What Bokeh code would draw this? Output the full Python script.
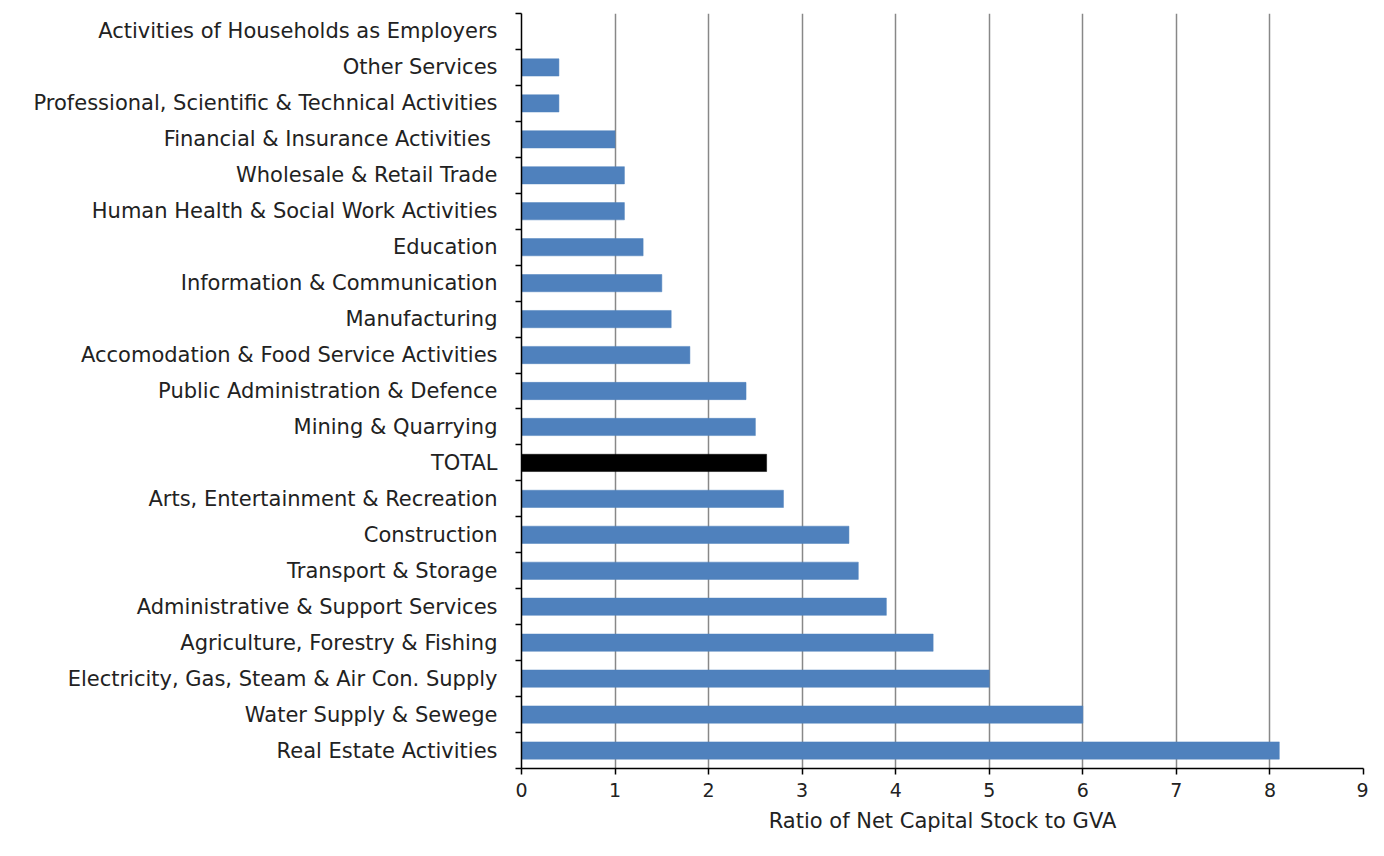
from bokeh.plotting import figure
from bokeh.models import FixedTicker, Range1d, ColumnDataSource
from bokeh.embed import file_html
from bokeh.resources import INLINE

# bottom to top
categories = [
    "Real Estate Activities",
    "Water Supply & Sewege",
    "Electricity, Gas, Steam & Air Con. Supply",
    "Agriculture, Forestry & Fishing",
    "Administrative & Support Services",
    "Transport & Storage",
    "Construction",
    "Arts, Entertainment & Recreation",
    "TOTAL",
    "Mining & Quarrying",
    "Public Administration & Defence",
    "Accomodation & Food Service Activities",
    "Manufacturing",
    "Information & Communication",
    "Education",
    "Human Health & Social Work Activities",
    "Wholesale & Retail Trade",
    "Financial & Insurance  Activities",
    "Professional, Scientific & Technical Activities",
    "Other Services",
    "Activities of Households as Employers",
]
values = [8.1, 6.0, 5.0, 4.4, 3.9, 3.6, 3.5, 2.8, 2.62, 2.5, 2.4, 1.8, 1.6, 1.5,
          1.3, 1.1, 1.1, 1.0, 0.4, 0.4, 0.0]
x_ticks = [0, 1, 2, 3, 4, 5, 6, 7, 8, 9]
x_label = "Ratio of Net Capital Stock to GVA"

n = len(categories)
pos = list(range(n))
colors = ["#000000" if c == "TOTAL" else "#4F81BD" for c in categories]
src = ColumnDataSource(dict(y=pos, v=values, c=colors))

FONT = "DejaVu Sans"

p = figure(width=1368, height=840, output_backend="svg", toolbar_location=None,
           x_range=Range1d(0, 9), y_range=Range1d(-0.5, n - 0.5),
           min_border_left=521, min_border_right=5, min_border_top=13,
           min_border_bottom=72)
p.hbar(y="y", right="v", left=0, height=0.48, fill_color="c", line_color="c",
       line_width=0.5, source=src)

p.outline_line_color = None
p.background_fill_color = "white"
p.border_fill_color = "white"

# x axis
xa = p.xaxis[0]
xa.ticker = FixedTicker(ticks=x_ticks)
xa.axis_label = x_label
xa.axis_label_text_font = FONT
xa.axis_label_text_font_style = "normal"
xa.axis_label_text_font_size = "21px"
xa.axis_label_text_color = "#222222"
xa.axis_label_standoff = 9
xa.major_label_text_font = FONT
xa.major_label_text_font_size = "19px"
xa.major_label_text_color = "#222222"
xa.major_label_standoff = 8
xa.axis_line_color = "black"
xa.axis_line_width = 1.5
xa.major_tick_line_color = "black"
xa.major_tick_line_width = 1.5
xa.major_tick_out = 6
xa.major_tick_in = 0
xa.minor_tick_line_color = None

# y axis: labels at centers, tick marks at boundaries
ya = p.yaxis[0]
ya.ticker = FixedTicker(ticks=pos, minor_ticks=[i - 0.5 for i in range(n + 1)])
ya.major_label_overrides = {i: c for i, c in enumerate(categories)}
ya.major_label_text_font = FONT
ya.major_label_text_font_size = "21px"
ya.major_label_text_color = "#222222"
ya.major_label_standoff = 18
ya.major_tick_out = 0
ya.major_tick_in = 0
ya.minor_tick_out = 6
ya.minor_tick_in = 0
ya.minor_tick_line_color = "black"
ya.minor_tick_line_width = 1.5
ya.axis_line_color = "black"
ya.axis_line_width = 1.5

p.ygrid.grid_line_color = None
p.xgrid.grid_line_color = "#888888"
p.xgrid.grid_line_width = 1.5

open("out.html", "w").write(file_html(p, INLINE))
